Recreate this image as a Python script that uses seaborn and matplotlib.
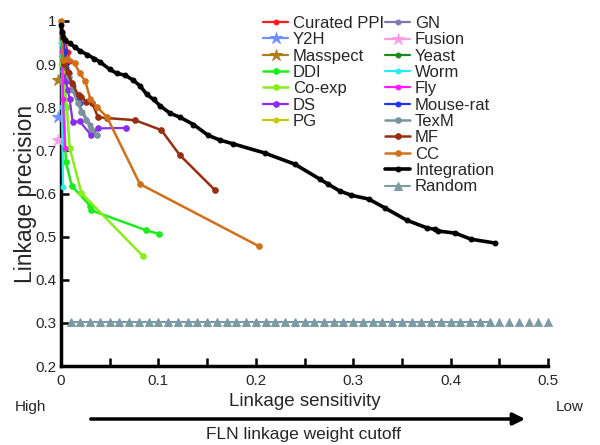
import numpy as np
import pandas as pd
import matplotlib
matplotlib.use("Agg")
import matplotlib.pyplot as plt
import seaborn as sns
from matplotlib.ticker import FixedLocator

# ---------------- data ----------------
names = ["Curated PPI", "Y2H", "Masspect", "DDI", "Co-exp", "DS", "PG",
         "GN", "Fusion", "Yeast", "Worm", "Fly", "Mouse-rat", "TexM", "MF", "CC",
         "Integration", "Random"]

curated_x = [0.001, 0.004, 0.007, 0.009]
curated_y = [0.975, 0.955, 0.928, 0.908]

y2h_x = [-0.003]
y2h_y = [0.778]

masspect_x = [-0.003]
masspect_y = [0.863]

ddi_x = [0.001, 0.003, 0.005, 0.011, 0.030, 0.031, 0.087, 0.101]
ddi_y = [0.92, 0.80, 0.673, 0.618, 0.571, 0.561, 0.515, 0.506]

coexp_x = [0.001, 0.003, 0.006, 0.009, 0.021, 0.084]
coexp_y = [0.93, 0.87, 0.80, 0.705, 0.601, 0.455]

ds_x = [0.002, 0.005, 0.007, 0.009, 0.012, 0.019, 0.031, 0.038, 0.067]
ds_y = [0.90, 0.86, 0.84, 0.818, 0.765, 0.768, 0.735, 0.751, 0.752]

pg_x = [0.0005, 0.002]
pg_y = [0.90, 0.885]

gn_x = [0.002, 0.008, 0.015, 0.022, 0.030]
gn_y = [0.93, 0.88, 0.83, 0.79, 0.76]

fusion_x = [-0.003]
fusion_y = [0.724]

yeast_x = [0.001, 0.003, 0.005]
yeast_y = [0.96, 0.92, 0.89]

worm_x = [0.0005, 0.001, 0.002]
worm_y = [0.95, 0.80, 0.615]

fly_x = [0.001, 0.002, 0.004]
fly_y = [0.93, 0.82, 0.705]

mouse_x = [0.001, 0.004, 0.008, 0.012, 0.016, 0.019]
mouse_y = [0.97, 0.93, 0.88, 0.85, 0.828, 0.81]

texm_x = [0.003, 0.008, 0.012, 0.017, 0.021, 0.026, 0.031, 0.037]
texm_y = [0.90, 0.87, 0.84, 0.81, 0.79, 0.77, 0.75, 0.736]

mf_x = [0.003, 0.007, 0.011, 0.018, 0.021, 0.026, 0.032, 0.038, 0.047, 0.076, 0.103, 0.122, 0.158]
mf_y = [0.90, 0.882, 0.856, 0.828, 0.824, 0.813, 0.810, 0.777, 0.775, 0.770, 0.747, 0.689, 0.608]

cc_x = [0.000, 0.002, 0.006, 0.014, 0.019, 0.025, 0.030, 0.037, 0.047, 0.081, 0.203]
cc_y = [1.000, 0.910, 0.913, 0.902, 0.880, 0.860, 0.820, 0.800, 0.778, 0.622, 0.478]

integ_x = [0.000, 0.001, 0.002, 0.004, 0.009, 0.014, 0.020, 0.027, 0.034, 0.040, 0.050,
           0.057, 0.066, 0.074, 0.081, 0.088, 0.095, 0.102, 0.112, 0.122, 0.136, 0.151,
           0.163, 0.177, 0.209, 0.240, 0.266, 0.274, 0.286, 0.298, 0.316, 0.333, 0.355,
           0.376, 0.384, 0.387, 0.405, 0.421, 0.446]
integ_y = [0.990, 0.975, 0.962, 0.955, 0.948, 0.940, 0.930, 0.922, 0.913, 0.905, 0.888,
           0.879, 0.874, 0.863, 0.850, 0.830, 0.818, 0.803, 0.786, 0.777, 0.760, 0.735,
           0.724, 0.715, 0.694, 0.668, 0.633, 0.622, 0.606, 0.596, 0.587, 0.566, 0.538,
           0.520, 0.517, 0.513, 0.508, 0.494, 0.485]

random_x = [0.01, 0.02, 0.03, 0.04, 0.05, 0.06, 0.07, 0.08, 0.09, 0.10,
            0.11, 0.12, 0.13, 0.14, 0.15, 0.16, 0.17, 0.18, 0.19, 0.20,
            0.21, 0.22, 0.23, 0.24, 0.25, 0.26, 0.27, 0.28, 0.29, 0.30,
            0.31, 0.32, 0.33, 0.34, 0.35, 0.36, 0.37, 0.38, 0.39, 0.40,
            0.41, 0.42, 0.43, 0.44, 0.45, 0.46, 0.47, 0.48, 0.49, 0.50]
random_y = [0.302] * 50
random_line_end = 0.44

x_ticks = [0, 0.1, 0.2, 0.3, 0.4, 0.5]
x_tick_labels = ["0", "0.1", "0.2", "0.3", "0.4", "0.5"]
x_minor = [0.05, 0.15, 0.25, 0.35, 0.45]
y_ticks = [0.2, 0.3, 0.4, 0.5, 0.6, 0.7, 0.8, 0.9, 1.0]
y_tick_labels = ["0.2", "0.3", "0.4", "0.5", "0.6", "0.7", "0.8", "0.9", "1"]

# ---------------- style ----------------
sns.set_style("ticks")
plt.rcParams["font.family"] = ["Liberation Sans", "DejaVu Sans"]

fig = plt.figure(figsize=(6.0, 4.45), dpi=100)
ax = fig.add_axes([61/600, 1-366/445, (548-61)/600, (366-21)/445])

series = [
    ("Curated PPI", curated_x, curated_y, "#ff1a1a", "o", 3.5, 1.6),
    ("Y2H", y2h_x, y2h_y, "#6f8fff", "*", 9, 1.6),
    ("Masspect", masspect_x, masspect_y, "#b07c1c", "*", 9, 1.6),
    ("DDI", ddi_x, ddi_y, "#1aee1a", "o", 4, 1.8),
    ("Co-exp", coexp_x, coexp_y, "#88ee18", "o", 4, 1.8),
    ("DS", ds_x, ds_y, "#8a2cf2", "o", 4, 1.6),
    ("PG", pg_x, pg_y, "#c8c800", "o", 3.5, 1.6),
    ("GN", gn_x, gn_y, "#7d78b0", "o", 3.5, 1.6),
    ("Fusion", fusion_x, fusion_y, "#ff9ce8", "*", 9, 1.6),
    ("Yeast", yeast_x, yeast_y, "#1a8a1a", "o", 3.5, 1.6),
    ("Worm", worm_x, worm_y, "#22eeee", "o", 3.5, 1.6),
    ("Fly", fly_x, fly_y, "#ff1aff", "o", 3.5, 1.6),
    ("Mouse-rat", mouse_x, mouse_y, "#2233ee", "o", 3.5, 1.6),
    ("TexM", texm_x, texm_y, "#7a949c", "o", 4, 1.8),
    ("MF", mf_x, mf_y, "#962e10", "o", 4, 1.8),
    ("CC", cc_x, cc_y, "#d2701a", "o", 4, 1.8),
    ("Integration", integ_x, integ_y, "#000000", "o", 3.5, 2.6),
]

handles = {}
for name, xs, ys, col, mk, ms, lw in series:
    df = pd.DataFrame({"x": xs, "y": ys})
    sns.lineplot(data=df, x="x", y="y", ax=ax, color=col, marker=mk, markersize=ms,
                 markeredgecolor=col, linewidth=lw, sort=False, estimator=None,
                 legend=False, clip_on=False, zorder=3)
    handles[name] = ax.lines[-1]

# Random baseline
rdf = pd.DataFrame({"x": random_x, "y": random_y})
rcol = "#7c9ba5"
sns.lineplot(data=rdf[rdf["x"] <= random_line_end], x="x", y="y", ax=ax, color=rcol,
             marker="^", markersize=6, markeredgecolor=rcol, linewidth=1.5,
             estimator=None, legend=False, clip_on=False, zorder=3)
handles["Random"] = ax.lines[-1]
sns.scatterplot(data=rdf[rdf["x"] > random_line_end], x="x", y="y", ax=ax, color=rcol,
                marker="^", s=36, edgecolor=rcol, legend=False, clip_on=False, zorder=3)

ax.set_xlim(0, 0.5)
ax.set_ylim(0.2, 1.0)
ax.xaxis.set_major_locator(FixedLocator(x_ticks))
ax.xaxis.set_minor_locator(FixedLocator(x_minor))
ax.set_xticklabels(x_tick_labels)
ax.yaxis.set_major_locator(FixedLocator(y_ticks))
ax.set_yticklabels(y_tick_labels)
ax.tick_params(axis="both", which="both", direction="in", length=6, width=1.8,
               labelsize=11, color="black")
ax.tick_params(axis="x", which="both", pad=6)
ax.tick_params(axis="y", which="both", pad=3)
for sp in ["top", "right"]:
    ax.spines[sp].set_visible(False)
for sp in ["left", "bottom"]:
    ax.spines[sp].set_linewidth(2.5)
    ax.spines[sp].set_color("black")

ax.set_xlabel("Linkage sensitivity", fontsize=13.5, labelpad=3)
ax.set_ylabel("Linkage precision", fontsize=16.5, labelpad=-1)

leg_kw = dict(frameon=False, fontsize=12, labelspacing=0.08, handlelength=1.5,
              handletextpad=0.3, borderpad=0, borderaxespad=0, loc="upper left",
              bbox_transform=fig.transFigure)
col1 = names[:7]
col2 = names[7:]
leg1 = ax.legend([handles[n] for n in col1], col1, bbox_to_anchor=(263/600, 1-16/445), **leg_kw)
ax.add_artist(leg1)
ax.legend([handles[n] for n in col2], col2, bbox_to_anchor=(385/600, 1-16/445), **leg_kw)

# bottom annotations
fig.text(30/600, 1-407/445, "High", fontsize=11, ha="center", va="center")
fig.text(570/600, 1-407/445, "Low", fontsize=11, ha="center", va="center")
fig.text(303/600, 1-434/445, "FLN linkage weight cutoff", fontsize=12.5, ha="center", va="center")
fig.add_artist(matplotlib.patches.FancyArrowPatch(
    (88/600, 1-419/445), (528/600, 1-419/445), transform=fig.transFigure,
    arrowstyle="-|>", mutation_scale=18, linewidth=2.5, color="black"))

fig.savefig("out.png", dpi=100)
